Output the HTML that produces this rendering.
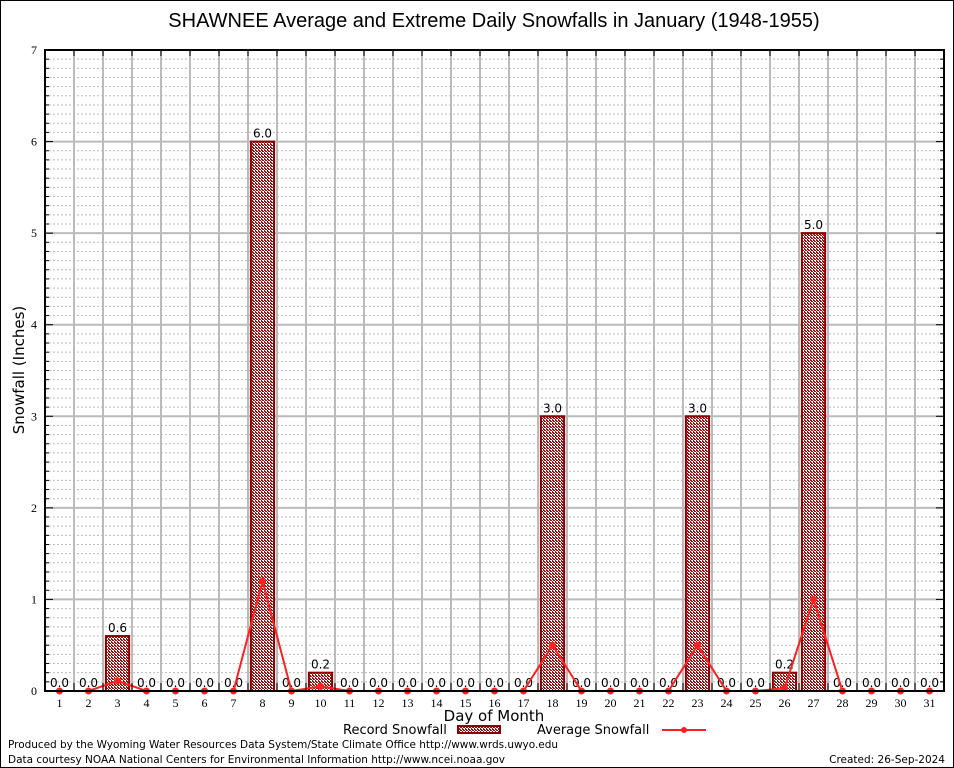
<!DOCTYPE html>
<html><head><meta charset="utf-8"><style>
html,body{margin:0;padding:0;background:#fff}
svg{display:block}
</style></head><body>
<svg id="c" width="954" height="768" xmlns="http://www.w3.org/2000/svg" font-family="DejaVu Sans, Liberation Sans, sans-serif">
<defs>
<pattern id="hatch" width="3" height="3" patternUnits="userSpaceOnUse">
<rect width="3" height="3" fill="#fff"/>
<rect width="2" height="1" fill="#a01010"/>
<rect x="1" y="1" width="2" height="1" fill="#a01010"/>
<rect x="0" y="2" width="1" height="1" fill="#a01010"/>
</pattern>
</defs>
<rect x="0.5" y="0.5" width="953" height="767" fill="#fff" stroke="#000"/>
<text x="494" y="27" font-size="20" text-anchor="middle" font-family="Liberation Sans, sans-serif">SHAWNEE Average and Extreme Daily Snowfalls in January (1948-1955)</text>
<g id="grid"></g>
<g id="bars"></g>
<g id="line"></g>
<g id="axes"></g>
<text x="24" y="370" font-size="15" text-anchor="middle" transform="rotate(-90 24 370)">Snowfall (Inches)</text>
<text x="494" y="721" font-size="15" text-anchor="middle">Day of Month</text>
<g>
<text x="343" y="734" font-size="13">Record Snowfall</text>
<rect x="458" y="726" width="42" height="7" fill="url(#hatch)" stroke="#8b0000" stroke-width="2"/>
<text x="537" y="734" font-size="13">Average Snowfall</text>
<line x1="662" y1="730" x2="706" y2="730" stroke="#ff2020" stroke-width="2"/>
<circle cx="684" cy="730" r="3" fill="#ff2020"/>
</g>
<text x="8" y="748" font-size="10.5" textLength="550">Produced by the Wyoming Water Resources Data System/State Climate Office http://www.wrds.uwyo.edu</text>
<text x="8" y="763" font-size="10.5" textLength="497">Data courtesy NOAA National Centers for Environmental Information http://www.ncei.noaa.gov</text>
<text x="945" y="763" font-size="10.5" text-anchor="end">Created: 26-Sep-2024</text>
</svg>
<script>
const days = [1,2,3,4,5,6,7,8,9,10,11,12,13,14,15,16,17,18,19,20,21,22,23,24,25,26,27,28,29,30,31];
const recordSnow = [0,0,0.6,0,0,0,0,6.0,0,0.2,0,0,0,0,0,0,0,3.0,0,0,0,0,3.0,0,0,0.2,5.0,0,0,0,0];
const avgSnow = [0,0,0.11,0,0,0,0,1.2,0,0.05,0,0,0,0,0,0,0,0.5,0,0,0,0,0.5,0,0,0.03,1.0,0,0,0,0];
const yTicks = [0,1,2,3,4,5,6,7];

const L=45,R=944,T=50,B=691,yMax=7;
const NS='http://www.w3.org/2000/svg';
function xs(d){return L+(d-0.5)*(R-L)/31;}
function ys(v){return B-v*(B-T)/yMax;}
function mk(tag,attrs,parent,text){const e=document.createElementNS(NS,tag);for(const k in attrs)e.setAttribute(k,attrs[k]);if(text!==undefined)e.textContent=text;parent.appendChild(e);return e;}
const grid=document.getElementById('grid'),bars=document.getElementById('bars'),line=document.getElementById('line'),axes=document.getElementById('axes');
for(let i=1;i<yMax*10;i++){if(i%10===0)continue;const y=ys(i/10);
const g=mk('line',{x1:L,x2:R,y1:y,y2:y,stroke:'#bbb','stroke-dasharray':'2,2'},grid);


const t1=mk('line',{x1:L,x2:L+4,y1:y,y2:y,stroke:'#000'},axes);


const t2=mk('line',{x1:R-4,x2:R,y1:y,y2:y,stroke:'#000'},axes);

}
yTicks.forEach(v=>{const y=ys(v);
if(v>0&&v<yMax){const g=mk('line',{x1:L,x2:R,y1:y,y2:y,stroke:'#bbb','stroke-width':2},grid);

}
const t=mk('line',{x1:L,x2:L+8,y1:y,y2:y,stroke:'#000'},axes);


const t2=mk('line',{x1:R-8,x2:R,y1:y,y2:y,stroke:'#000'},axes);


const lb=mk('text',{x:L-8,y:y+4,'font-size':12,'text-anchor':'end','font-family':'Liberation Serif, serif'},axes,String(v));

});
for(let i=1;i<31;i++){const x=L+i*(R-L)/31;
const g=mk('line',{x1:x,x2:x,y1:T,y2:B,stroke:'#bbb','stroke-width':2},grid);


const t=mk('line',{x1:x,x2:x,y1:B-8,y2:B,stroke:'#000'},axes);


const t2=mk('line',{x1:x,x2:x,y1:T,y2:T+6,stroke:'#000'},axes);

}
const bw=(R-L)/31*0.8;
days.forEach((d,i)=>{const v=recordSnow[i],x=xs(d);
if(v>0){const b=mk('rect',{x:x-bw/2,y:ys(v),width:bw,height:B-ys(v),fill:'url(#hatch)',stroke:'#8b0000','stroke-width':2},bars);

}
const lb=mk('text',{x:x,y:ys(v)-4,'font-size':12,'text-anchor':'middle',fill:'#000'},bars,v.toFixed(1));


const xl=mk('text',{x:x,y:B+16,'font-size':12,'text-anchor':'middle','font-family':'Liberation Serif, serif'},axes,String(d));

});
const pts=days.map((d,i)=>xs(d)+','+ys(avgSnow[i])).join(' ');
const pl=mk('polyline',{points:pts,fill:'none',stroke:'#ff2020','stroke-width':2},line);


days.forEach((d,i)=>{const c=mk('circle',{cx:xs(d),cy:ys(avgSnow[i]),r:3.5,fill:'#ff2020'},line);

});
const fr=mk('rect',{x:L,y:T,width:R-L,height:B-T,fill:'none',stroke:'#000','stroke-width':2},axes);


</script>
</body></html>
